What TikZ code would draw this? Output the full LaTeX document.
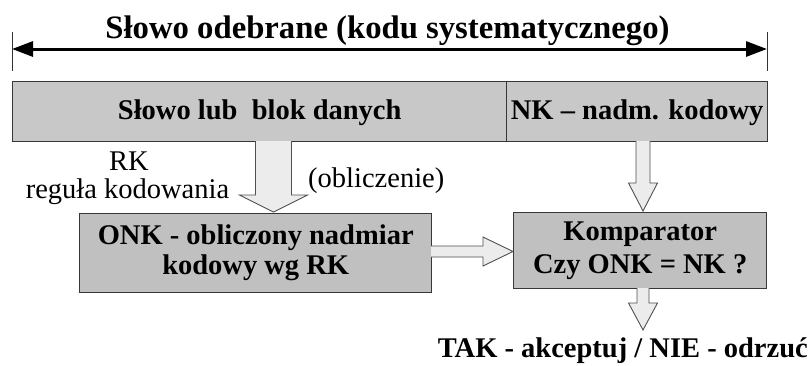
\documentclass[tikz,border=0pt]{standalone}
\usepackage{fontspec}
\setmainfont{Liberation Serif}
\usetikzlibrary{calc,arrows.meta}
\definecolor{barfill}{RGB}{200,200,200}
\definecolor{boxfill}{RGB}{192,192,192}
\definecolor{arrfill}{RGB}{236,236,236}
\definecolor{edgecol}{RGB}{55,55,55}
\definecolor{arredge}{RGB}{80,80,80}
\newcommand{\blockdown}[5]{%
  \filldraw[blockarrow] let \p1=(#1), \p2=(#2) in
  (\x1-#3,\y1) -- (\x1-#3,\y2+#5) -- (\x1-#4,\y2+#5) -- (\x1,\y2)
  -- (\x1+#4,\y2+#5) -- (\x1+#3,\y2+#5) -- (\x1+#3,\y1);}
\newcommand{\blockright}[5]{%
  \filldraw[blockarrow] let \p1=(#1), \p2=(#2) in
  (\x1,\y1+#3) -- (\x2-#5,\y1+#3) -- (\x2-#5,\y1+#4) -- (\x2,\y1)
  -- (\x2-#5,\y1-#4) -- (\x2-#5,\y1-#3) -- (\x1,\y1-#3);}
\tikzset{
  x=1pt, y=-1pt,
  bigbold/.style={font=\fontsize{28.5pt}{31pt}\selectfont\bfseries},
  plainlbl/.style={font=\fontsize{28.5pt}{31pt}\selectfont, inner sep=0pt},
  barbox/.style={draw=edgecol, fill=barfill, line width=1.4pt, anchor=north west,
    inner sep=0pt, bigbold, text height=20pt, text depth=5pt},
  procbox/.style={draw=edgecol, fill=boxfill, line width=1.4pt, anchor=north west,
    inner sep=0pt, bigbold, align=center},
  blockarrow/.style={draw=arredge, fill=arrfill, line width=0.9pt, line join=miter},
  dimarrow/.style={line width=3pt, {Triangle[length=21pt,width=15pt]}-{Triangle[length=21pt,width=15pt]}},
  tick/.style={draw=black!80, line width=1pt},
}
\begin{document}
\begin{tikzpicture}
\useasboundingbox (0,0) rectangle (811,365);
% title and dimension arrow
\node[bigbold, font=\fontsize{32.7pt}{34pt}\selectfont\bfseries, inner sep=0pt, anchor=base] (title) at (387.5,38.5) {Słowo odebrane (kodu systematycznego)};
\coordinate (tl1) at (12,32); \coordinate (tl2) at (12,71);
\coordinate (tr1) at (767,32); \coordinate (tr2) at (767,71);
\coordinate (dl) at (12,49); \coordinate (dr) at (767,49);
\draw[tick] (tl1) -- (tl2);
\draw[tick] (tr1) -- (tr2);
\draw[dimarrow] (dl) -- (dr);
% received word bar
\node[barbox, minimum width=494pt, minimum height=60pt] (data) at (12,81) {Słowo lub\ \ blok danych};
\node[barbox, minimum width=261pt, minimum height=60pt] (nk) at (506,81) {NK -- nadm. kodowy};
% processing boxes
\node[procbox, minimum width=352pt, minimum height=79pt] (onk) at (79,213) {ONK - obliczony nadmiar\\[-1pt]kodowy wg RK};
\node[procbox, minimum width=253pt, minimum height=76pt] (cmp) at (513,212) {Komparator\\[2pt]Czy ONK = NK ?};
% labels
\node[plainlbl, anchor=base] (rk) at (129,170) {RK};
\node[plainlbl, anchor=base] (rule) at (127.5,198) {reguła kodowania};
\node[plainlbl, anchor=base west] (calc) at (308,187) {(obliczenie)};
\node[bigbold, inner sep=0pt, anchor=base east] (result) at (808,357) {TAK - akceptuj / NIE - odrzuć};
% block arrows
\coordinate (a1s) at (273.5,141); \coordinate (a1e) at (273.5,212);
\coordinate (a2s) at (643,141);   \coordinate (a2e) at (643,211);
\coordinate (a3s) at (643,288);   \coordinate (a3e) at (643,330);
\coordinate (a4s) at (431,251.5); \coordinate (a4e) at (513,251.5);
\blockdown{a1s}{a1e}{18pt}{34pt}{17pt}
\blockdown{a2s}{a2e}{7pt}{14.5pt}{28pt}
\blockdown{a3s}{a3e}{6pt}{14.5pt}{27pt}
\blockright{a4s}{a4e}{5.5pt}{14.5pt}{30pt}
\end{tikzpicture}
\end{document}
